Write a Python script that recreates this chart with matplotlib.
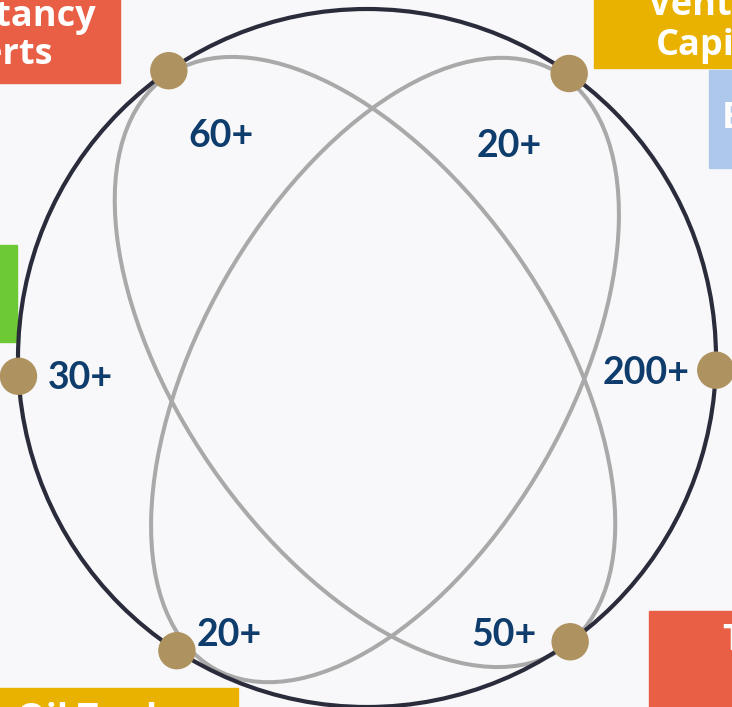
import numpy as np
import matplotlib.pyplot as plt
from matplotlib.patches import Circle, Ellipse, Rectangle

# counts shown next to each node
counts = ['60+', '20+', '30+', '200+', '20+', '50+']
# node angles on the ring (degrees, counter-clockwise from the right)
node_angles = [124.6, 54.6, 183, 358, 237, 305.6]
# partly visible category boxes at the edges
box_names = ['Consultancy', 'Experts', 'Venture', 'Capital', 'Oil Traders', 'T']

W, H = 732, 707
fig = plt.figure(figsize=(W / 100, H / 100), dpi=100, facecolor='#f8f8fa')
ax = fig.add_axes([0, 0, 1, 1])
ax.set_xlim(0, W)
ax.set_ylim(H, 0)
ax.axis('off')

cx, cy, r = 367, 358, 349

# boxes at the border (x, y, w, h, colour)
boxes = [
    (-10, -10, 130, 93, '#e85f45'),
    (594, -10, 150, 78, '#eab200'),
    (709, 70, 40, 98, '#aec8ec'),
    (-10, 245, 27, 97, '#6dc934'),
    (-10, 688, 248, 40, '#eab200'),
    (649, 611, 100, 110, '#e85f45'),
]
for x, y, w, h, c in boxes:
    ax.add_patch(Rectangle((x, y), w, h, color=c, zorder=1))

# box texts (x, baseline y, horizontal alignment)
text_pos = [(96, 26, 'right'), (53, 64, 'right'), (720, 15, 'center'),
            (720, 55, 'center'), (115, 729, 'center'), (733, 650, 'center')]
for name, (tx, ty, ha) in zip(box_names, text_pos):
    ax.text(tx, ty, name, color='white', fontsize=26, fontweight='bold',
            family='Open Sans', ha=ha, va='baseline', zorder=2)
# white glyph on the narrow blue box
ax.text(722, 119, 'E', color='white', fontsize=26, fontweight='bold',
        family='Open Sans', ha='left', va='center', zorder=2)

# inner ellipses
ax.add_patch(Ellipse((365, 362), 2 * 348, 2 * 186, angle=55.3, fill=False,
                     ec='#a9a9a9', lw=2.9, zorder=3))
ax.add_patch(Ellipse((385, 370), 2 * 344, 2 * 184, angle=-60.2, fill=False,
                     ec='#a9a9a9', lw=2.9, zorder=3))

# outer ring
ax.add_patch(Circle((cx, cy), r, fill=False, ec='#2a2c3c', lw=3.0, zorder=4))

# label offsets relative to each node (layout only)
offsets = [(52, 65), (-60, 72), (62, 2), (-70, 3), (52, -16), (-66, -7)]
for ang, txt, (ox, oy) in zip(node_angles, counts, offsets):
    a = np.deg2rad(ang)
    nx, ny = cx + r * np.cos(a), cy - r * np.sin(a)
    ax.add_patch(Circle((nx, ny), 18, color='#ae925f', zorder=5))
    ax.text(nx + ox, ny + oy, txt, color='#0e3c6c', fontsize=27,
            fontweight='bold', family='Lato', ha='center', va='center',
            zorder=6)

fig.savefig('out.png', dpi=100, facecolor=fig.get_facecolor())
